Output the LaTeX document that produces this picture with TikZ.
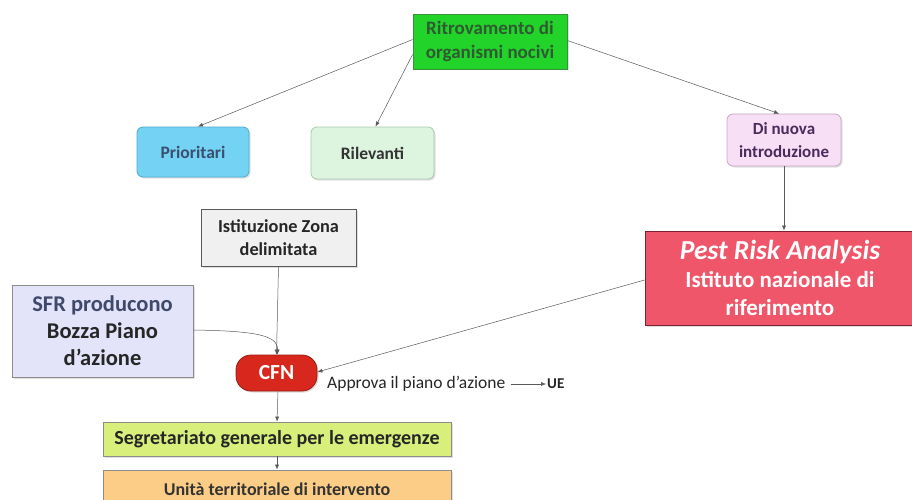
\documentclass[tikz,border=0pt]{standalone}
\usepackage{fontspec}
\setmainfont{Carlito}
\usetikzlibrary{arrows.meta,shadows,calc}
\definecolor{cgreen}{HTML}{22D42A}
\definecolor{cgreenb}{HTML}{3B8F3B}
\definecolor{cgreent}{HTML}{2F5A32}
\definecolor{cblue}{HTML}{74D3F5}
\definecolor{cblueb}{HTML}{4FA9CF}
\definecolor{cbluet}{HTML}{3A4F6E}
\definecolor{clgreen}{HTML}{DDF5DF}
\definecolor{clgreenb}{HTML}{A9C9AC}
\definecolor{cpink}{HTML}{F7DFF6}
\definecolor{cpinkb}{HTML}{C9A9C8}
\definecolor{cpinkt}{HTML}{4B2B5C}
\definecolor{cgrey}{HTML}{F0F0F0}
\definecolor{cred}{HTML}{F0566A}
\definecolor{credb}{HTML}{7A2232}
\definecolor{clav}{HTML}{E3E3FA}
\definecolor{clavt}{HTML}{3F4A6A}
\definecolor{ccfn}{HTML}{D8281D}
\definecolor{cyel}{HTML}{D8EF7C}
\definecolor{corange}{HTML}{FCCD86}
\definecolor{cline}{HTML}{5A5A5A}
\tikzset{
  x=1pt, y=-1pt,
  boxbase/.style={draw, line width=0.8pt, align=center, inner sep=2pt, font=\bfseries},
  shad/.style={drop shadow={opacity=0.25, shadow xshift=1.5pt, shadow yshift=-1.5pt}},
  conn/.style={draw=cline, line width=0.5pt, -{Latex[length=5pt,width=4pt]}},
}
\begin{document}
\begin{tikzpicture}
\useasboundingbox (0,0) rectangle (912,500);
\fill[white] (0,0) rectangle (912,500);

\node[boxbase, shad, fill=cgreen, draw=cgreenb, text=cgreent, minimum width=154pt, minimum height=55pt, font=\bfseries\fontsize{19}{24}\selectfont] (ritr) at (490,41.5) {Ritrovamento di\\organismi nocivi};

\node[boxbase, shad, rounded corners=6pt, fill=cblue, draw=cblueb, text=cbluet, minimum width=112pt, minimum height=50pt, font=\bfseries\fontsize{17.5}{20}\selectfont] (prio) at (193,152) {Prioritari};

\node[boxbase, shad, rounded corners=6pt, fill=clgreen, draw=clgreenb, text=black!80, minimum width=123pt, minimum height=52pt, font=\bfseries\fontsize{17.5}{20}\selectfont] (rilev) at (372.5,153) {Rilevanti};

\node[boxbase, shad, rounded corners=6pt, fill=cpink, draw=cpinkb, text=cpinkt, minimum width=114pt, minimum height=52pt, font=\bfseries\fontsize{17}{22.5}\selectfont] (dinuova) at (784,140) {Di nuova\\introduzione};

\node[boxbase, shad, fill=cgrey, draw=black!65, text=black!85, minimum width=155pt, minimum height=57pt, font=\bfseries\fontsize{18.3}{23}\selectfont] (isti) at (278.5,237.5) {Istituzione Zona\\delimitata};

\node[boxbase, shad, fill=cred, draw=credb, text=white, minimum width=270pt, minimum height=94pt, font=\bfseries\fontsize{23}{28}\selectfont] (pra) at (780,278) {{\fontsize{27.5}{28}\selectfont\itshape Pest Risk Analysis}\\Istituto nazionale di\\riferimento};

\node[boxbase, shad, fill=clav, draw=black!45, text=black!85, minimum width=181pt, minimum height=92pt, font=\bfseries\fontsize{22.5}{27}\selectfont] (sfr) at (102.5,331) {\textcolor{clavt}{SFR producono}\\Bozza Piano\\d’azione};

\node[boxbase, shad, rounded corners=15pt, fill=ccfn, draw=ccfn!70!black, text=white, minimum width=81pt, minimum height=36pt, font=\bfseries\fontsize{21.5}{22}\selectfont] (cfn) at (276.5,373) {CFN};

\node[anchor=west, inner sep=1pt, font=\fontsize{17.5}{20}\selectfont, text=black!85] (approva) at (326,384) {Approva il piano d’azione};
\node[anchor=west, inner sep=1pt, font=\bfseries\fontsize{15}{17}\selectfont, text=black!85] (ue) at (546,384) {UE};

\node[boxbase, shad, fill=cyel, draw=black!45, text=black!85, minimum width=348pt, minimum height=34pt, font=\bfseries\fontsize{20}{22}\selectfont] (segr) at (277,439) {Segretariato generale per le emergenze};

\node[boxbase, shad, fill=corange, draw=black!45, text=black!80, minimum width=348pt, minimum height=38pt, font=\bfseries\fontsize{18}{20}\selectfont] (unita) at (277,489) {Unità territoriale di intervento};

% connectors
\draw[conn] ([yshift=2pt]ritr.west) -- ([xshift=5pt]prio.north);
\draw[conn] ([yshift=-13pt]ritr.west) -- ([xshift=3pt]rilev.north);
\draw[conn] ([yshift=1pt]ritr.east) -- ([xshift=-5pt]dinuova.north);
\draw[conn] (dinuova.south) -- ([xshift=4pt]pra.north);
\draw[conn] ([yshift=-2pt]pra.west) -- ([yshift=1pt]cfn.east);
\draw[conn] (isti.south) -- (cfn.north);
\draw[conn] ([yshift=1pt]sfr.east) .. controls (255,331) and (278,335) .. ([xshift=1pt]cfn.north);
\draw[conn] ([xshift=1.5pt]cfn.south) -- (segr.north);
\draw[conn] (segr.south) -- (unita.north);
\draw[conn] (approva.east) ++(4pt,0) coordinate (ap) (ap) -- (ue.west);
\end{tikzpicture}
\end{document}
